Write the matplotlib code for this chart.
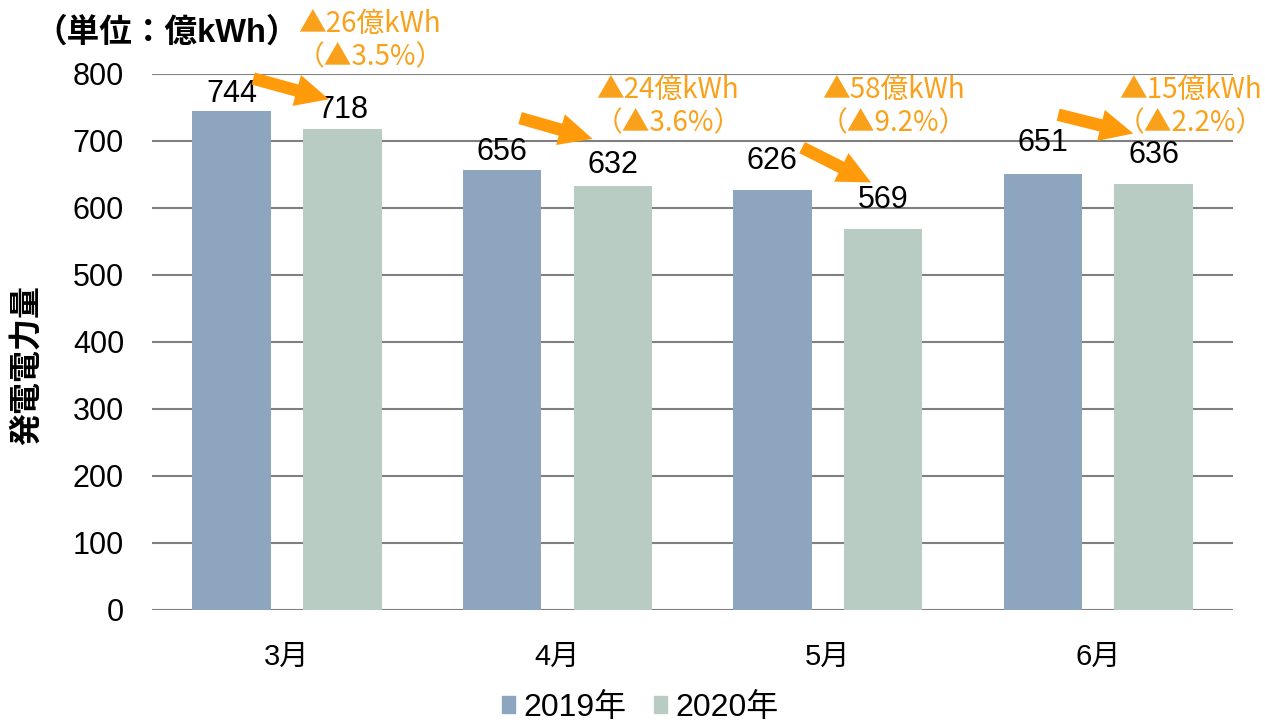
import numpy as np
import matplotlib
matplotlib.use("Agg")
import matplotlib.pyplot as plt
from matplotlib.patches import FancyArrowPatch, Patch

plt.rcParams['font.family'] = ['Liberation Sans', 'Noto Sans CJK JP']

# data
months = ['3月', '4月', '5月', '6月']
gen_2019 = [744, 656, 626, 651]
gen_2020 = [718, 632, 569, 636]
changes = ['▲26億kWh\n（▲3.5%）', '▲24億kWh\n（▲3.6%）',
           '▲58億kWh\n（▲9.2%）', '▲15億kWh\n（▲2.2%）']

c_2019 = '#8EA5C0'
c_2020 = '#B9CCC4'
orange = '#FF9A0A'
orange_txt = '#F9A11B'

fig = plt.figure(figsize=(12.65, 7.24), dpi=100)
ax = fig.add_axes([0.120, 0.1575, 0.855, 0.7405])

x = np.arange(len(months))
w = 0.29
off = 0.205
ax.bar(x - off, gen_2019, w, color=c_2019, zorder=2)
ax.bar(x + off, gen_2020, w, color=c_2020, zorder=2)

# value labels (offset in px above bar top, tuned by eye)
lab_off1 = [17, 18, 29, 31]
lab_off2 = [19, 21, 29, 29]
for xi, v, o in zip(x - off, gen_2019, lab_off1):
    ax.annotate(str(v), (xi, v), xytext=(0, o * 0.72), textcoords='offset points',
                ha='center', va='center', fontsize=22, zorder=5)
for xi, v, o in zip(x + off, gen_2020, lab_off2):
    ax.annotate(str(v), (xi, v), xytext=(0, o * 0.72), textcoords='offset points',
                ha='center', va='center', fontsize=22, zorder=5)

ax.set_xlim(-0.5, 3.5)
ax.set_ylim(0, 800)
ax.set_yticks(range(0, 801, 100))
ax.set_xticks(x)
ax.set_xticklabels(months)
ax.tick_params(axis='y', length=0, pad=20, labelsize=22)
ax.tick_params(axis='x', length=0, pad=24, labelsize=21)
ax.yaxis.grid(True, color='#7F7F7F', lw=1.5, zorder=1)
ax.set_axisbelow(True)
for s in ax.spines.values():
    s.set_visible(False)

ax.set_ylabel('発電電力量', fontsize=23, fontweight='bold')
ax.yaxis.set_label_coords(-0.101, 0.457)
fig.text(0.027, 0.955, '（単位：億kWh）', fontsize=23.5, fontweight='bold',
         ha='left', va='center')

# arrows and change annotations
arrows = [((-0.125, 793), (0.155, 762)),
          ((0.862, 734), (1.13, 703)),
          ((1.905, 690), (2.16, 638)),
          ((2.852, 739), (3.13, 711))]
for (a, b) in arrows:
    p = FancyArrowPatch(a, b, arrowstyle='simple,head_length=1.2,head_width=1.15,tail_width=0.45',
                        mutation_scale=20, color=orange, lw=0, zorder=6, clip_on=False,
                        shrinkA=0, shrinkB=0)
    ax.add_patch(p)

text_pos = [(0.307, 849), (1.409, 751), (2.242, 751), (3.341, 751)]
for (tx, ty), t in zip(text_pos, changes):
    ax.text(tx, ty, t, color=orange_txt, fontsize=20, ha='center', va='center',
            family='Noto Sans CJK JP', linespacing=1.15, zorder=6, clip_on=False)

handles = [Patch(color=c_2019), Patch(color=c_2020)]
fig.legend(handles, ['2019年', '2020年'], loc='center', bbox_to_anchor=(0.506, 0.022),
           ncol=2, frameon=False, fontsize=23, handlelength=0.42, handleheight=0.42,
           handletextpad=0.25, columnspacing=0.85, borderpad=0)

fig.savefig('out.png', dpi=100)
